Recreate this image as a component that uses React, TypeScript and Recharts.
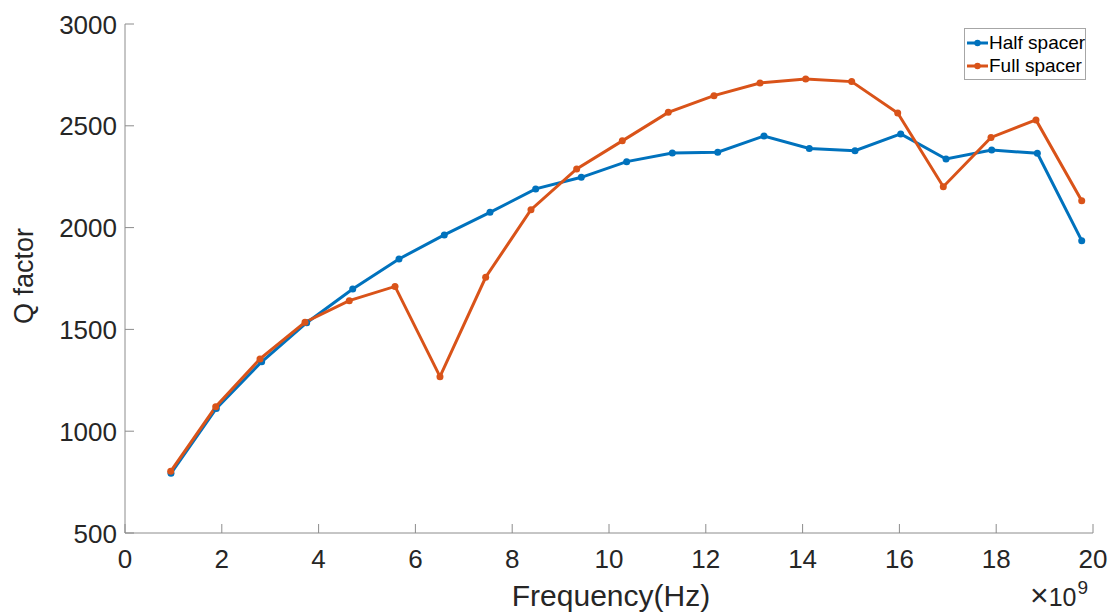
import React from 'react';
import { LineChart, Line, XAxis, YAxis, Legend } from 'recharts';

// frequencies in units of 1e9 Hz
const halfFreq = [0.95, 1.887, 2.824, 3.754, 4.705, 5.661, 6.597, 7.541, 8.485, 9.428, 10.365, 11.308, 12.246, 13.202, 14.139, 15.083, 16.027, 16.963, 17.907, 18.85, 19.767];
const halfQ = [793, 1112, 1341, 1533, 1698, 1846, 1964, 2075, 2190, 2247, 2324, 2366, 2370, 2450, 2389, 2378, 2460, 2337, 2381, 2365, 1936];

const fullFreq = [0.944, 1.874, 2.789, 3.719, 4.634, 5.579, 6.508, 7.452, 8.388, 9.332, 10.275, 11.225, 12.169, 13.12, 14.064, 15.014, 15.965, 16.907, 17.893, 18.822, 19.767];
const fullQ = [803, 1120, 1355, 1535, 1641, 1711, 1268, 1756, 2088, 2288, 2426, 2566, 2648, 2710, 2730, 2717, 2563, 2201, 2443, 2529, 2132];

const xTicks = [0, 2, 4, 6, 8, 10, 12, 14, 16, 18, 20];
const yTicks = [500, 1000, 1500, 2000, 2500, 3000];

const BLUE = '#0072BD';
const ORANGE = '#D95319';
const AXIS = '#8c8c8c';
const TEXT = '#262626';
const FONT = '"Liberation Sans", Arial, Helvetica, sans-serif';
const TICK_LEN = 9;

const halfData = halfFreq.map((f, i) => ({ f, q: halfQ[i] }));
const fullData = fullFreq.map((f, i) => ({ f, q: fullQ[i] }));

const series = [
  { name: 'Half spacer', color: BLUE },
  { name: 'Full spacer', color: ORANGE },
];

const BottomTick = (props: any) => {
  const { x, y, payload } = props;
  return (
    <g>
      <line x1={x} y1={y} x2={x} y2={y - TICK_LEN} stroke={AXIS} strokeWidth={1} />
      <text x={x} y={y + 35} textAnchor="middle" fontSize={26} fontFamily={FONT} fill={TEXT}>
        {payload.value}
      </text>
    </g>
  );
};

const TopTick = (props: any) => {
  const { x, y } = props;
  return <line x1={x} y1={y} x2={x} y2={y + TICK_LEN} stroke={AXIS} strokeWidth={1} />;
};

const LeftTick = (props: any) => {
  const { x, y, payload } = props;
  return (
    <g>
      <line x1={x} y1={y} x2={x + TICK_LEN} y2={y} stroke={AXIS} strokeWidth={1} />
      <text x={x - 8} y={y + 9.5} textAnchor="end" fontSize={26} fontFamily={FONT} fill={TEXT}>
        {payload.value}
      </text>
    </g>
  );
};

const RightTick = (props: any) => {
  const { x, y } = props;
  return <line x1={x} y1={y} x2={x - TICK_LEN} y2={y} stroke={AXIS} strokeWidth={1} />;
};

const renderLegend = () => (
  <div
    style={{
      border: '1px solid #a6a6a6',
      background: '#fff',
      padding: '2px 0',
      fontFamily: FONT,
      fontSize: 19,
      color: '#000',
      width: 122,
      boxSizing: 'border-box',
    }}
  >
    {series.map((s) => (
      <div key={s.name} style={{ display: 'flex', alignItems: 'center', height: 23 }}>
        <svg width={24} height={10} style={{ flex: 'none' }}>
          <line x1={2} y1={5} x2={23} y2={5} stroke={s.color} strokeWidth={3} />
          <circle cx={12.5} cy={5} r={3.2} fill={s.color} />
        </svg>
        <span style={{ whiteSpace: 'nowrap', lineHeight: '23px' }}>{s.name}</span>
      </div>
    ))}
  </div>
);

export default function App() {
  return (
    <div style={{ position: 'absolute', left: 0, top: 0, background: '#fff' }}>
      <LineChart width={1110} height={613} margin={{ top: 24, right: 17, left: 0, bottom: 0 }}>
        <XAxis
          type="number"
          dataKey="f"
          domain={[0, 20]}
          ticks={xTicks}
          interval={0}
          height={80}
          tickSize={0}
          tickMargin={0}
          tickLine={false}
          axisLine={{ stroke: AXIS }}
          tick={<BottomTick />}
          allowDataOverflow
        />
        <XAxis
          xAxisId="top"
          orientation="top"
          type="number"
          domain={[0, 20]}
          ticks={xTicks}
          interval={0}
          height={0}
          tickSize={0}
          tickMargin={0}
          tickLine={false}
          axisLine={{ stroke: AXIS }}
          tick={<TopTick />}
          allowDataOverflow
        />
        <YAxis
          type="number"
          domain={[500, 3000]}
          ticks={yTicks}
          interval={0}
          width={125}
          tickSize={0}
          tickMargin={0}
          tickLine={false}
          axisLine={{ stroke: AXIS }}
          tick={<LeftTick />}
          allowDataOverflow
        />
        <YAxis
          yAxisId="right"
          orientation="right"
          type="number"
          domain={[500, 3000]}
          ticks={yTicks}
          interval={0}
          width={0}
          tickSize={0}
          tickMargin={0}
          tickLine={false}
          axisLine={{ stroke: AXIS }}
          tick={<RightTick />}
          allowDataOverflow
        />
        <Legend
          layout="horizontal"
          verticalAlign="middle"
          align="center"
          wrapperStyle={{ top: 28, left: 964, width: 122, height: 51 }}
          content={renderLegend}
        />
        <Line
          data={halfData}
          dataKey="q"
          name="Half spacer"
          type="linear"
          stroke={BLUE}
          strokeWidth={3}
          dot={{ r: 3.5, fill: BLUE, stroke: BLUE, strokeWidth: 0 }}
          isAnimationActive={false}
        />
        <Line
          data={fullData}
          dataKey="q"
          name="Full spacer"
          type="linear"
          stroke={ORANGE}
          strokeWidth={3}
          dot={{ r: 3.5, fill: ORANGE, stroke: ORANGE, strokeWidth: 0 }}
          isAnimationActive={false}
        />
        <text x={611} y={606} textAnchor="middle" fontSize={30} fontFamily={FONT} fill={TEXT}>
          Frequency(Hz)
        </text>
        <text
          x={33}
          y={276}
          textAnchor="middle"
          fontSize={27}
          fontFamily={FONT}
          fill={TEXT}
          transform="rotate(-90 33 276)"
        >
          Q factor
        </text>
        <text x={1030} y={606} fontSize={25} fontFamily={FONT} fill={TEXT}>
          <tspan fontSize={32} fontWeight={300}>×</tspan>
          <tspan>10</tspan>
          <tspan dx={1} dy={-12} fontSize={19}>9</tspan>
        </text>
      </LineChart>
    </div>
  );
}
